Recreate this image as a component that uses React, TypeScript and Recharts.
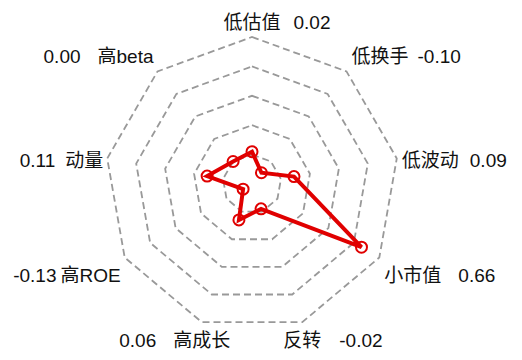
import { RadarChart, Radar, PolarGrid, PolarAngleAxis, PolarRadiusAxis } from 'recharts';

// =============================================================================
// Data
// =============================================================================

const FACTORS = ['低估值', '低换手', '低波动', '小市值', '反转', '高成长', '高ROE', '动量', '高beta'];
const EXPOSURES = [0.02, -0.1, 0.09, 0.66, -0.02, 0.06, -0.13, 0.11, 0.0];
const RADIUS_DOMAIN: [number, number] = [-0.2, 0.8];

const chartData = FACTORS.map((factor, i) => ({ factor, value: EXPOSURES[i] }));

// =============================================================================
// Layout
// =============================================================================

const WIDTH = 522;
const HEIGHT = 360;
const CX = 252;
const CY = 184;
const OUTER_R = 147;
const FONT_SIZE = 19;
const FONT_FAMILY = '"Liberation Sans", "Noto Sans CJK SC", sans-serif';
const RED = '#e00000';

// space between factor name and its value, per label (px)
const LABEL_GAPS: Record<string, number> = {
  低估值: 13,
  低换手: 9,
  低波动: 11,
  小市值: 17,
  反转: 18,
  高成长: 17,
  高ROE: 4,
  动量: 10,
  高beta: 17,
};

/** Rough text width: CJK glyphs are one em, latin ~0.56 em. */
function textWidth(s: string): number {
  let w = 0;
  for (const ch of s) w += /[\u3000-\u9fff]/.test(ch) ? FONT_SIZE : FONT_SIZE * 0.56;
  return w;
}

function FactorTick(props: any) {
  const { payload } = props;
  const idx = typeof payload.index === 'number' ? payload.index : FACTORS.indexOf(payload.value);
  const name = FACTORS[idx];
  const val = EXPOSURES[idx].toFixed(2);
  const gap = LABEL_GAPS[name] ?? 13;
  const rad = (payload.coordinate * Math.PI) / 180;
  const cos = Math.cos(rad);
  const sin = Math.sin(rad);
  const vx = CX + OUTER_R * cos;
  const vy = CY - OUTER_R * sin;
  const dy = sin > 0.3 ? -15 : sin < -0.3 ? 18 : 2;
  const y = vy + dy + FONT_SIZE * 0.36;
  const common = { fontSize: FONT_SIZE, fontFamily: FONT_FAMILY, fill: '#111' };

  // top / bottom: name centred on the axis, value beside it
  if (Math.abs(cos) < 0.4) {
    const half = textWidth(name) / 2;
    return (
      <g>
        <text x={vx} y={y} textAnchor="middle" {...common}>
          {name}
        </text>
        {cos >= 0 ? (
          <text x={vx + half + gap} y={y} textAnchor="start" {...common}>
            {val}
          </text>
        ) : (
          <text x={vx - half - gap} y={y} textAnchor="end" {...common}>
            {val}
          </text>
        )}
      </g>
    );
  }

  if (cos > 0) {
    return (
      <text x={vx + 5} y={y} textAnchor="start" {...common}>
        <tspan>{name}</tspan>
        <tspan dx={gap}>{val}</tspan>
      </text>
    );
  }

  return (
    <text x={vx - 4} y={y} textAnchor="end" {...common}>
      <tspan>{val}</tspan>
      <tspan dx={gap}>{name}</tspan>
    </text>
  );
}

// =============================================================================
// Main Component
// =============================================================================

export default function App() {
  return (
    <div style={{ position: 'absolute', left: 0, top: 0, width: WIDTH, height: HEIGHT, background: '#fff' }}>
      <RadarChart
        width={WIDTH}
        height={HEIGHT}
        data={chartData}
        cx={CX}
        cy={CY}
        outerRadius={OUTER_R}
        margin={{ top: 0, right: 0, bottom: 0, left: 0 }}
      >
        <PolarGrid
          gridType="polygon"
          radialLines={false}
          stroke="#999"
          strokeWidth={1.8}
          strokeDasharray="7 4"
        />
        <PolarAngleAxis dataKey="factor" tick={FactorTick} tickLine={false} axisLine={false} />
        <PolarRadiusAxis
          type="number"
          scale="linear"
          domain={RADIUS_DOMAIN}
          tickCount={6}
          allowDecimals
          tick={false}
          axisLine={false}
        />
        <Radar
          dataKey="value"
          stroke={RED}
          strokeWidth={4}
          fill="none"
          fillOpacity={0}
          dot={{ r: 5.5, fill: '#fff', stroke: RED, strokeWidth: 2 }}
          isAnimationActive={false}
        />
      </RadarChart>
    </div>
  );
}
